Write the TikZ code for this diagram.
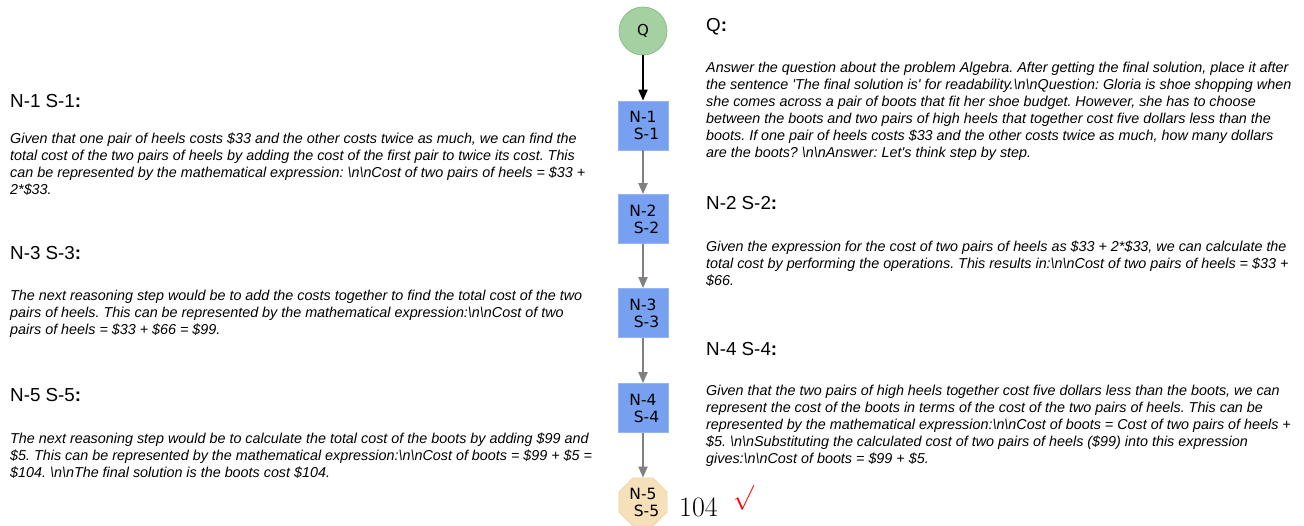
\documentclass[tikz,border=0pt]{standalone}
\usepackage{fontspec}
\setmainfont{Liberation Sans}
\newfontfamily\nodefont{DejaVu Sans}
\newfontfamily\numfont{Latin Modern Roman}
\usetikzlibrary{shapes.geometric,arrows.meta}
\definecolor{qgreen}{RGB}{164,208,162}
\definecolor{qborder}{RGB}{140,190,140}
\definecolor{boxblue}{RGB}{120,160,240}
\definecolor{boxborder}{RGB}{150,180,240}
\definecolor{wheatfill}{RGB}{245,224,185}
\definecolor{wheatborder}{RGB}{240,215,170}
\definecolor{edgegray}{RGB}{128,128,128}
\newcommand{\bs}{\textbackslash}
\newcommand{\sq}{\textquotesingle}
\frenchspacing
\begin{document}
\begin{tikzpicture}[x=1pt,y=-1pt,
  body/.style={anchor=base west, inner sep=0pt, align=left, font=\fontsize{14.35}{16.9}\selectfont\itshape},
  head/.style={anchor=base west, inner sep=0pt, font=\fontsize{18.8}{20}\selectfont},
  stepbox/.style={rectangle, draw=boxborder, fill=boxblue, minimum width=50pt, minimum height=49pt, font=\nodefont\fontsize{15.5}{17}\selectfont, align=center, inner sep=0pt, line width=0.8pt},
  qnode/.style={circle, draw=qborder, fill=qgreen, minimum size=48pt, inner sep=0pt, font=\nodefont\fontsize{15}{17}\selectfont, line width=0.8pt},
  endnode/.style={regular polygon, regular polygon sides=8, draw=wheatborder, fill=wheatfill, minimum size=52pt, inner sep=0pt, font=\nodefont\fontsize{15.5}{17}\selectfont, align=center, line width=0.8pt},
  firstedge/.style={black, line width=2pt, -{Triangle[length=11pt,width=9pt]}},
  stepedge/.style={edgegray, line width=2pt, -{Triangle[length=11pt,width=9pt]}}
]
\useasboundingbox (0,0) rectangle (1304,525);

% graph nodes
\node[qnode] (q) at (643,31) {Q};
\node[stepbox] (n1) at (643,125.5) {N-1\\\hspace*{7pt}S-1};
\node[stepbox] (n2) at (643,219) {N-2\\\hspace*{7pt}S-2};
\node[stepbox] (n3) at (643,313) {N-3\\\hspace*{7pt}S-3};
\node[stepbox] (n4) at (643,408) {N-4\\\hspace*{7pt}S-4};
\node[endnode] (n5) at (643,502) {N-5\\\hspace*{7pt}S-5};

\draw[firstedge] (q) -- (n1);
\draw[stepedge] (n1) -- (n2);
\draw[stepedge] (n2) -- (n3);
\draw[stepedge] (n3) -- (n4);
\draw[stepedge] (n4) -- (n5);

\node[anchor=base west, inner sep=0pt, font=\numfont\fontsize{28}{30}\selectfont] (ans) at (679,516) {104};
\node[anchor=base west, inner sep=0pt, text=red, font=\fontsize{27}{30}\selectfont] (chk) at (733,504) {$\surd$};

% right column
\node[head] (hq) at (706,31) {Q\textbf{:}};
\node[body] (tq) at (706,157) {Answer the question about the problem Algebra. After getting the final solution, place it after\\
the sentence \sq The final solution is\sq{} for readability.\bs n\bs nQuestion: Gloria is shoe shopping when\\
she comes across a pair of boots that fit her shoe budget. However, she has to choose\\
between the boots and two pairs of high heels that together cost five dollars less than the\\
boots. If one pair of heels costs \$33 and the other costs twice as much, how many dollars\\
are the boots? \bs n\bs nAnswer: Let\sq s think step by step.};

\node[head] (h2) at (706,209) {N-2 S-2\textbf{:}};
\node[body] (t2) at (706,285) {Given the expression for the cost of two pairs of heels as \$33 + 2*\$33, we can calculate the\\
total cost by performing the operations. This results in:\bs n\bs nCost of two pairs of heels = \$33 +\\
\$66.};

\node[head] (h4) at (706,355) {N-4 S-4\textbf{:}};
\node[body] (t4) at (706,463) {Given that the two pairs of high heels together cost five dollars less than the boots, we can\\
represent the cost of the boots in terms of the cost of the two pairs of heels. This can be\\
represented by the mathematical expression:\bs n\bs nCost of boots = Cost of two pairs of heels +\\
\$5. \bs n\bs nSubstituting the calculated cost of two pairs of heels (\$99) into this expression\\
gives:\bs n\bs nCost of boots = \$99 + \$5.};

% left column
\node[head] (h1) at (10,107) {N-1 S-1\textbf{:}};
\node[body] (t1) at (10,194) {Given that one pair of heels costs \$33 and the other costs twice as much, we can find the\\
total cost of the two pairs of heels by adding the cost of the first pair to twice its cost. This\\
can be represented by the mathematical expression: \bs n\bs nCost of two pairs of heels = \$33 +\\
2*\$33.};

\node[head] (h3) at (10,259) {N-3 S-3\textbf{:}};
\node[body] (t3) at (10,334) {The next reasoning step would be to add the costs together to find the total cost of the two\\
pairs of heels. This can be represented by the mathematical expression:\bs n\bs nCost of two\\
pairs of heels = \$33 + \$66 = \$99.};

\node[head] (h5) at (10,401) {N-5 S-5\textbf{:}};
\node[body] (t5) at (10,477) {The next reasoning step would be to calculate the total cost of the boots by adding \$99 and\\
\$5. This can be represented by the mathematical expression:\bs n\bs nCost of boots = \$99 + \$5 =\\
\$104. \bs n\bs nThe final solution is the boots cost \$104.};
\end{tikzpicture}
\end{document}
